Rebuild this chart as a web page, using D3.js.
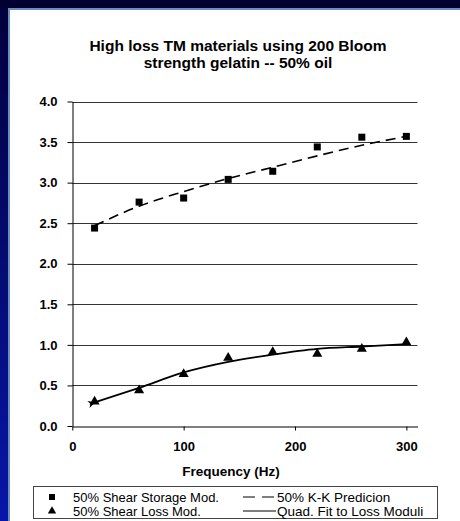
<!DOCTYPE html>
<html>
<head>
<meta charset="utf-8">
<script src="https://cdn.jsdelivr.net/npm/d3@7"></script>
<style>
  body { margin: 0; padding: 0; overflow: hidden; }
  text { font-family: "Liberation Sans", Arial, sans-serif; }
</style>
</head>
<body>
<script>
// measured data
var freq = [20, 60, 100, 140, 180, 220, 260, 300];
var storageMod = [2.44, 2.76, 2.81, 3.04, 3.14, 3.44, 3.56, 3.57];
var lossMod = [0.30, 0.44, 0.64, 0.84, 0.91, 0.89, 0.95, 1.03];
// fitted curves
var kkPred = [2.47, 2.71, 2.89, 3.05, 3.19, 3.33, 3.46, 3.57];
var quadFit = [0.29, 0.47, 0.66, 0.79, 0.88, 0.95, 0.98, 1.01];
var yTicks = [0, 0.5, 1, 1.5, 2, 2.5, 3, 3.5, 4];
var xTicks = [0, 100, 200, 300];

var W = 460, H = 521;
var svg = d3.select("body").append("svg").attr("width", W).attr("height", H);

var defs = svg.append("defs");
var bg = defs.append("linearGradient").attr("id", "bg")
    .attr("x1", 0).attr("y1", 0).attr("x2", 0).attr("y2", 1);
bg.append("stop").attr("offset", "0%").attr("stop-color", "#00003a");
bg.append("stop").attr("offset", "100%").attr("stop-color", "#0816a8");

defs.append("marker").attr("id", "arrow")
    .attr("viewBox", "0 0 10 10").attr("refX", 1).attr("refY", 5)
    .attr("markerWidth", 4).attr("markerHeight", 4)
    .attr("orient", "auto-start-reverse")
  .append("path").attr("d", "M0,5 L10,0 L7,5 L10,10 Z").attr("fill", "#000");

svg.append("rect").attr("width", W).attr("height", H).attr("fill", "url(#bg)");
svg.append("rect").attr("x", 0).attr("y", 0).attr("width", W).attr("height", 8).attr("fill", "#000030");
svg.append("rect").attr("x", 8).attr("y", 8).attr("width", W - 8).attr("height", H - 8).attr("fill", "#6a8cc0");
svg.append("rect").attr("x", 10).attr("y", 10).attr("width", W - 10).attr("height", H - 10).attr("fill", "#fff");

// title
svg.append("text").attr("x", 238).attr("y", 51).attr("text-anchor", "middle")
    .attr("font-size", 15.5).attr("font-weight", "bold")
    .text("High loss TM materials using 200 Bloom");
svg.append("text").attr("x", 238).attr("y", 68).attr("text-anchor", "middle")
    .attr("font-size", 15.5).attr("font-weight", "bold")
    .text("strength gelatin -- 50% oil");

var x = d3.scaleLinear().domain([0, 310]).range([72.3, 417.5]);
var y = d3.scaleLinear().domain([0, 4]).range([426, 101.5]);

// gridlines
svg.append("g").selectAll("line").data(yTicks.slice(1)).enter().append("line")
    .attr("x1", x(0)).attr("x2", x(310))
    .attr("y1", function (d) { return Math.round(y(d)) + 0.5; })
    .attr("y2", function (d) { return Math.round(y(d)) + 0.5; })
    .attr("stroke", "#333").attr("stroke-width", 1);

var yAxis = svg.append("g").attr("transform", "translate(" + (Math.round(x(0)) + 0.5) + ",0)")
    .call(d3.axisLeft(y).tickValues(yTicks).tickFormat(d3.format(".1f")).tickSize(5).tickPadding(10).tickSizeOuter(0));
var xAxis = svg.append("g").attr("transform", "translate(0," + (Math.round(y(0)) + 0.5) + ")")
    .call(d3.axisBottom(x).tickValues(xTicks).tickSize(4).tickPadding(11).tickSizeOuter(0));
[yAxis, xAxis].forEach(function (a) {
  a.select(".domain").attr("stroke", "#000");
  a.selectAll(".tick line").attr("stroke", "#000");
  a.selectAll("text").attr("font-size", 13).attr("font-weight", "bold")
      .attr("font-family", "Liberation Sans, Arial, sans-serif").attr("fill", "#000");
});

svg.append("text").attr("x", 231).attr("y", 475.5).attr("text-anchor", "middle")
    .attr("font-size", 13.5).attr("font-weight", "bold").text("Frequency (Hz)");

// curves
var line = d3.line().curve(d3.curveMonotoneX)
    .x(function (d) { return x(d[0]); }).y(function (d) { return y(d[1]); });

svg.append("path").datum(d3.zip(freq, kkPred)).attr("d", line)
    .attr("fill", "none").attr("stroke", "#000").attr("stroke-width", 1.6)
    .attr("stroke-dasharray", "10,6");
svg.append("path").datum(d3.zip(freq, quadFit)).attr("d", line)
    .attr("fill", "none").attr("stroke", "#000").attr("stroke-width", 1.8)
    .attr("marker-start", "url(#arrow)");

// markers
svg.append("g").selectAll("rect").data(d3.zip(freq, storageMod)).enter().append("rect")
    .attr("x", function (d) { return x(d[0]) - 3.5; })
    .attr("y", function (d) { return y(d[1]) - 3.5; })
    .attr("width", 7).attr("height", 7).attr("fill", "#000");

var tri = d3.symbol().type(d3.symbolTriangle).size(44);
svg.append("g").selectAll("path").data(d3.zip(freq, lossMod)).enter().append("path")
    .attr("d", tri)
    .attr("transform", function (d) { return "translate(" + x(d[0]) + "," + y(d[1]) + ")"; })
    .attr("fill", "#000");

// legend
var lg = svg.append("g");
lg.append("rect").attr("x", 33.5).attr("y", 486.5).attr("width", 404).attr("height", 32)
    .attr("fill", "#fff").attr("stroke", "#444");
lg.append("rect").attr("x", 49).attr("y", 494).attr("width", 6).attr("height", 6).attr("fill", "#000");
lg.append("path").attr("d", d3.symbol().type(d3.symbolTriangle).size(30))
    .attr("transform", "translate(52,511)").attr("fill", "#000");
lg.append("text").attr("x", 73).attr("y", 501.5).attr("font-size", 13).text("50% Shear Storage Mod.");
lg.append("text").attr("x", 73).attr("y", 515.5).attr("font-size", 13).text("50% Shear Loss Mod.");
lg.append("line").attr("x1", 243).attr("x2", 274).attr("y1", 497).attr("y2", 497)
    .attr("stroke", "#000").attr("stroke-width", 1.2).attr("stroke-dasharray", "12,7");
lg.append("line").attr("x1", 243).attr("x2", 276).attr("y1", 511).attr("y2", 511)
    .attr("stroke", "#000").attr("stroke-width", 1.2);
lg.append("text").attr("x", 277).attr("y", 501.5).attr("font-size", 13.5).text("50% K-K Predicion");
lg.append("text").attr("x", 277).attr("y", 515.5).attr("font-size", 13.5).text("Quad. Fit to Loss Moduli");
</script>
</body>
</html>
